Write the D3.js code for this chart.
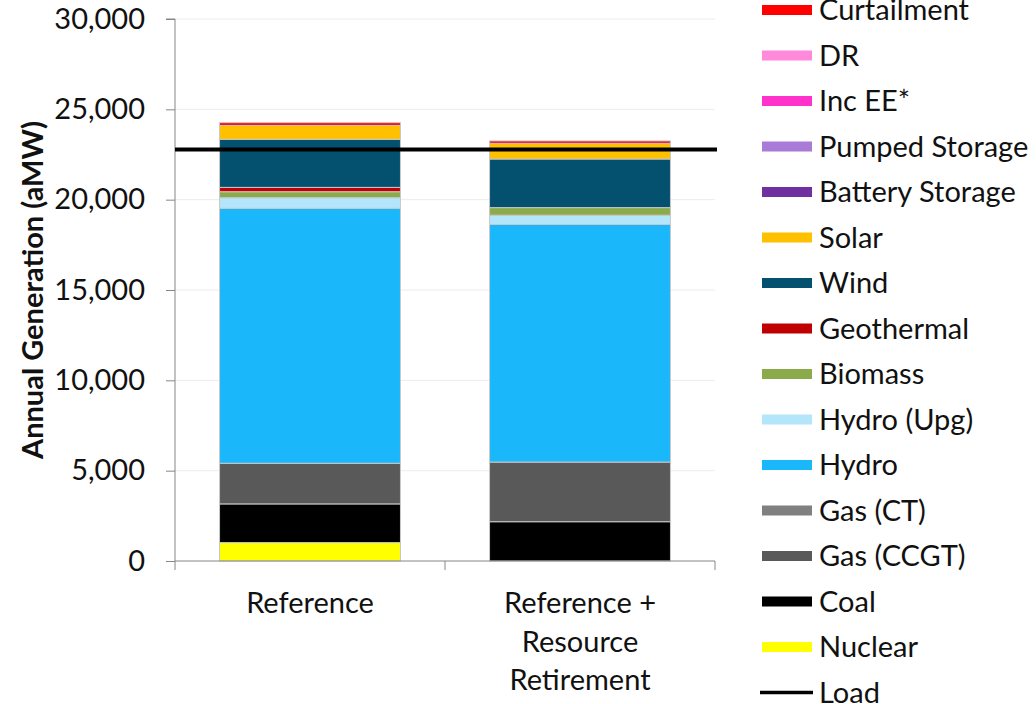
<!DOCTYPE html>
<html><head><meta charset="utf-8">
<script src="https://cdn.jsdelivr.net/npm/d3@7"></script>
<style>
body{margin:0;background:#fff;}
svg{display:block;font-family:Lato,"Open Sans",sans-serif;}
</style></head>
<body><svg id="c" width="1036" height="704"></svg>
<script>
// ---- data ----
const categories = ["Reference", "Reference + Resource Retirement"];
const categoryLines = [["Reference"], ["Reference +", "Resource", "Retirement"]];
const seriesNames = ["Nuclear","Coal","Gas (CCGT)","Gas (CT)","Hydro","Hydro (Upg)","Biomass","Geothermal","Wind","Solar","Battery Storage","Pumped Storage","Inc EE*","DR","Curtailment"];
const seriesColors = ["#FFFF00","#000000","#595959","#808080","#1AB7FA","#B3E5FB","#8BAA4A","#C00000","#03506F","#FFC000","#7030A0","#AA7BD6","#FF33CC","#FF8ADB","#FF0000"];
const referenceValues  = [1020, 2140, 2250, 0, 14110, 590, 330, 240, 2660, 770, 0, 0, 0, 0, 150];
const retirementValues = [0, 2175, 3300, 0, 13150, 515, 420, 0, 2690, 870, 0, 0, 0, 0, 130];
const loadValue = 22780;
const yTicks = [0, 5000, 10000, 15000, 20000, 25000, 30000];

// ---- layout ----
const svg = d3.select("#c");
const plot = {left:175, right:715, top:19, bottom:561};
const y = d3.scaleLinear().domain([0, 30000]).range([plot.bottom, plot.top]);
const x = d3.scaleBand().domain(categories).range([plot.left, plot.right]).padding(0);
const barFrac = 0.67;

// gridlines
svg.append("g").selectAll("line").data(yTicks.filter(d=>d>0)).join("line")
  .attr("x1", plot.left).attr("x2", plot.right)
  .attr("y1", d=>y(d)).attr("y2", d=>y(d))
  .attr("stroke", "#ececec").attr("stroke-width", 1);

// stacked data
const rows = categories.map((c,i)=>{
  const o = {cat:c};
  const vals = i===0 ? referenceValues : retirementValues;
  seriesNames.forEach((s,j)=>o[s]=vals[j]);
  return o;
});
const stack = d3.stack().keys(seriesNames)(rows);
const bw = x.bandwidth()*barFrac;
svg.append("g").selectAll("g").data(stack).join("g")
  .attr("fill", (d,i)=>seriesColors[i])
  .selectAll("rect").data(d=>d.filter(p=>p[1]-p[0]>0)).join("rect")
  .attr("x", d=>x(d.data.cat)+(x.bandwidth()-bw)/2)
  .attr("width", bw)
  .attr("y", d=>y(d[1]))
  .attr("height", d=>y(d[0])-y(d[1]))
  .attr("stroke", "#c8c8c8").attr("stroke-width", 1);

// y axis
const yAxis = d3.axisLeft(y).tickValues(yTicks).tickSize(9).tickPadding(21)
  .tickFormat(d3.format(","));
const gy = svg.append("g").attr("transform", `translate(${plot.left},0)`).call(yAxis);
gy.select(".domain").attr("stroke", "#868686").attr("d", `M-9,${plot.top}H0V${plot.bottom}`);
gy.selectAll(".tick line").attr("stroke", "#868686");
gy.selectAll(".tick text").attr("font-size", 29).attr("fill", "#111")
  .attr("font-family", "Lato, sans-serif");

// x axis
svg.append("line").attr("x1", plot.left).attr("x2", plot.right)
  .attr("y1", plot.bottom).attr("y2", plot.bottom).attr("stroke", "#868686");
const bounds = [x(categories[0])].concat(categories.map(c=>x(c)+x.bandwidth()));
svg.append("g").selectAll("line").data(bounds).join("line")
  .attr("x1", d=>d).attr("x2", d=>d).attr("y1", plot.bottom).attr("y2", plot.bottom+9)
  .attr("stroke", "#868686");
const xl = svg.append("g").selectAll("text").data(categories).join("text")
  .attr("x", d=>x(d)+x.bandwidth()/2).attr("text-anchor", "middle")
  .attr("font-size", 29).attr("fill", "#111");
xl.each(function(d,i){
  d3.select(this).selectAll("tspan").data(categoryLines[i]).join("tspan")
    .attr("x", x(d)+x.bandwidth()/2).attr("y", (t,k)=>613+k*38.5).text(t=>t);
});

// load line
svg.append("line").attr("x1", plot.left).attr("x2", plot.right+2)
  .attr("y1", y(loadValue)).attr("y2", y(loadValue))
  .attr("stroke", "#000").attr("stroke-width", 4);

// y title
svg.append("text").attr("transform", `translate(43,${(115+465)/2}) rotate(-90)`)
  .attr("text-anchor", "middle").attr("font-size", 29).attr("font-weight", "bold")
  .attr("fill", "#111").text("Annual Generation (aMW)");

// legend
const legendItems = seriesNames.map((s,i)=>({name:s, color:seriesColors[i]})).reverse();
legendItems.push({name:"Load", line:true});
const lg = svg.append("g").selectAll("g").data(legendItems).join("g")
  .attr("transform", (d,i)=>`translate(0,${10+45.5*i})`);
lg.filter(d=>!d.line).append("rect").attr("x", 762).attr("y", -5).attr("width", 50).attr("height", 10)
  .attr("fill", d=>d.color);
lg.filter(d=>d.line).append("line").attr("x1", 760).attr("x2", 813).attr("y1", 0).attr("y2", 0)
  .attr("stroke", "#000").attr("stroke-width", 3.5);
lg.append("text").attr("x", 819).attr("y", 10).attr("font-size", 29).attr("fill", "#111")
  .text(d=>d.name);
</script></body></html>
